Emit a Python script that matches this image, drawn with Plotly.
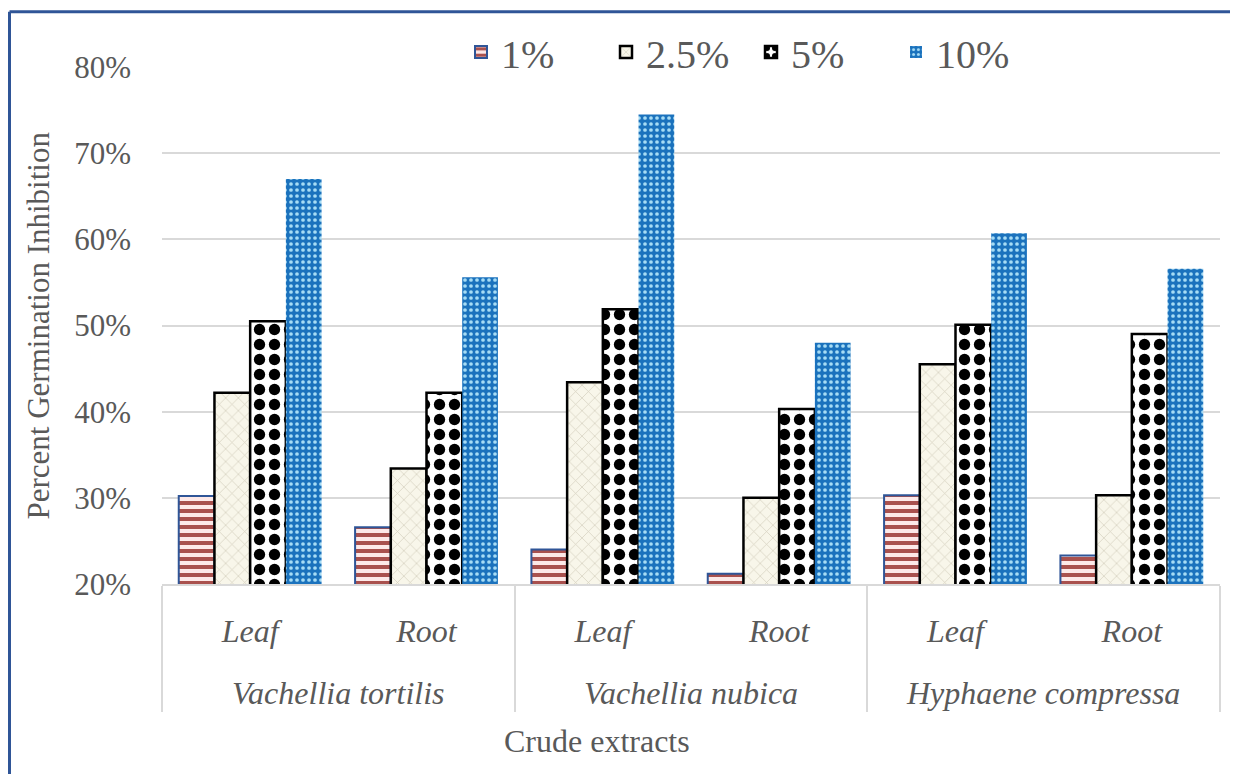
import plotly.graph_objects as go

# crude extract per plant part and concentration
species = ["Vachellia tortilis", "Vachellia tortilis",
           "Vachellia nubica", "Vachellia nubica",
           "Hyphaene compressa", "Hyphaene compressa"]
parts = ["Leaf", "Root", "Leaf", "Root", "Leaf", "Root"]

conc_1 = [0.302, 0.266, 0.240, 0.212, 0.303, 0.233]
conc_2_5 = [0.422, 0.334, 0.434, 0.300, 0.455, 0.303]
conc_5 = [0.505, 0.422, 0.519, 0.403, 0.501, 0.490]
conc_10 = [0.670, 0.556, 0.745, 0.480, 0.607, 0.566]

txt = "#595959"
fnt = "Liberation Serif"

# page body has 8px margin, so plot area in figure px
L, T, R, B = 154, 57, 1212, 576
PW, PH = R - L, B - T


def px(x):
    return (x - 8 - L) / PW


def py(y):
    return (B - (y - 8)) / PH


# blank line above the species row so it sits lower, as in the original
x_cats = [["<br>" + s for s in species], parts]

fig = go.Figure()

fig.add_trace(go.Bar(x=x_cats, y=conc_1, name="1%",
                     marker=dict(color="#fbe5e3",
                                 line=dict(color="#2f5597", width=2),
                                 pattern=dict(shape="-", fgcolor="#a9514e", bgcolor="#fde9e8",
                                              fgopacity=1, size=8, solidity=0.5))))
fig.add_trace(go.Bar(x=x_cats, y=conc_2_5, name="2.5%",
                     marker=dict(color="#f7f5e8",
                                 line=dict(color="black", width=2.5),
                                 pattern=dict(shape="x", fgcolor="#d3d0bd", bgcolor="#f8f6ea",
                                              fgopacity=1, size=9, solidity=0.15))))
fig.add_trace(go.Bar(x=x_cats, y=conc_5, name="5%",
                     marker=dict(color="white",
                                 line=dict(color="black", width=2.5),
                                 pattern=dict(shape=".", fgcolor="black", bgcolor="white",
                                              fgopacity=1, size=15, solidity=0.45))))
fig.add_trace(go.Bar(x=x_cats, y=conc_10, name="10%",
                     marker=dict(color="#1b72bd",
                                 line=dict(color="#1b72bd", width=0),
                                 pattern=dict(shape=".", fgcolor="#a6dcf5", bgcolor="#1b72bd",
                                              fgopacity=1, size=6, solidity=0.3))))

fig.update_layout(
    width=1238, height=774,
    margin=dict(l=L, r=1238 - R, t=T, b=774 - B),
    paper_bgcolor="white", plot_bgcolor="white",
    font=dict(family=fnt, color=txt, size=31),
    barmode="group", bargap=0.19, bargroupgap=0,
    legend=dict(orientation="h", x=px(461), y=py(50), xanchor="left", yanchor="middle",
                font=dict(size=40, color=txt), bgcolor="rgba(0,0,0,0)",
                entrywidth=100, traceorder="normal"),
    showlegend=True,
)

fig.update_yaxes(range=[0.2, 0.8], dtick=0.1, tickformat=".0%",
                 showgrid=True, gridcolor="#d9d9d9", gridwidth=2,
                 zeroline=False, showline=False, ticks="",
                 ticklabelstandoff=30,
                 tickfont=dict(size=31, color=txt, family=fnt))
fig.update_xaxes(type="multicategory", showline=True, linecolor="#d9d9d9", linewidth=2,
                 showdividers=True, dividercolor="#d9d9d9", dividerwidth=2,
                 ticklabelstandoff=18,
                 tickfont=dict(size=32, color=txt, family=fnt, style="italic"))

# axis titles
fig.add_annotation(text="Crude extracts", xref="paper", yref="paper",
                   x=px(597), y=py(742), xanchor="center", yanchor="middle",
                   showarrow=False, font=dict(size=32, color=txt, family=fnt))
fig.add_annotation(text="Percent Germination Inhibition", xref="paper", yref="paper",
                   x=px(38), y=0.5, xanchor="center", yanchor="middle",
                   textangle=-90, showarrow=False,
                   font=dict(size=31, color=txt, family=fnt))

# border of the chart area, left and top
bx = (1.5 - L) / PW
by = (B - 1.5) / PH
fig.add_shape(type="line", xref="paper", yref="paper",
              x0=bx, x1=bx, y0=by, y1=(B - 800) / PH,
              line=dict(color="#2f5597", width=3))
fig.add_shape(type="line", xref="paper", yref="paper",
              x0=bx, x1=(1260 - L) / PW, y0=by, y1=by,
              line=dict(color="#2f5597", width=3))

fig.write_html("out.html")
